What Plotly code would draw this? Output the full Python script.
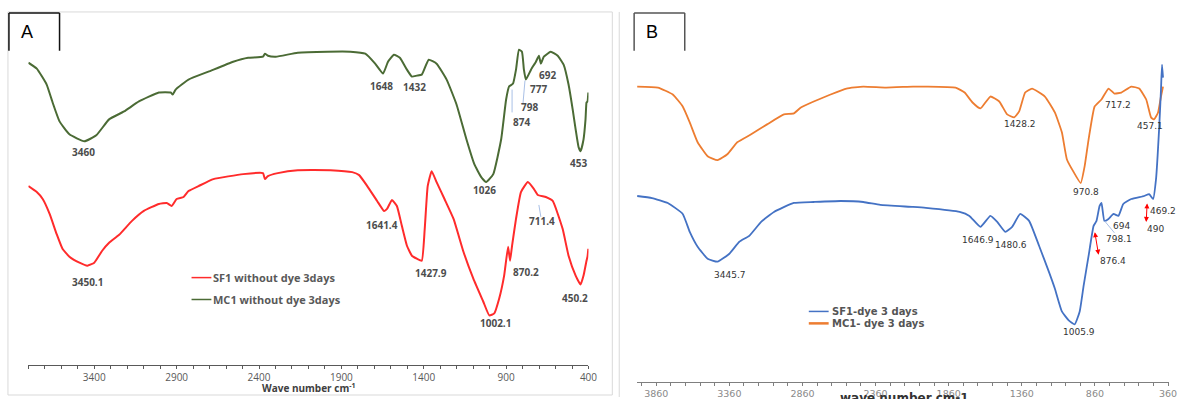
import plotly.graph_objects as go

W, H = 1182, 399

# ---------------- DATA ----------------
# Panel A (without dye)
wn_A_mc1 = [3800, 3749, 3689, 3653, 3611, 3551, 3460, 3388, 3310, 3219, 3129, 3008, 2936, 2924, 2906,
            2828, 2707, 2557, 2466, 2376, 2364, 2346, 2298, 2165, 1984, 1846, 1755, 1695, 1647, 1617,
            1581, 1545, 1502, 1472, 1442, 1412, 1370, 1322, 1261, 1201, 1141, 1093, 1051, 1021, 978,
            930, 900, 882, 858, 840, 822, 804, 792, 780, 749, 719, 701, 689, 671, 629, 587, 551, 521,
            496, 478, 460, 448, 430, 418, 412, 406, 401]
T_A_mc1 = [337, 331, 315, 297, 278, 265, 258, 264, 280, 288, 298, 307, 307, 305, 310,
           320, 328, 338, 342, 343, 346, 344, 343, 347, 348, 348, 346, 336, 326, 338,
           345, 342, 330, 323, 324, 325, 340, 336, 320, 295, 260, 235, 222, 217, 225,
           260, 300, 313, 316, 330, 350, 348, 330, 320, 330, 338, 344, 336, 343, 348, 344, 335, 315,
           290, 270, 252, 248, 260, 280, 297, 298, 307]

wn_A_sf1 = [3800, 3749, 3713, 3671, 3629, 3593, 3551, 3490, 3442, 3400, 3352, 3310, 3249, 3171, 3099,
            3008, 2960, 2930, 2900, 2858, 2828, 2767, 2677, 2496, 2376, 2364, 2346, 2286, 2165, 1966,
            1834, 1792, 1743, 1683, 1641, 1623, 1593, 1563, 1533, 1502, 1472, 1442, 1412, 1394, 1376,
            1352, 1322, 1274, 1219, 1159, 1099, 1039, 1002, 972, 942, 912, 888, 876, 864, 840, 810,
            768, 731, 707, 659, 617, 557, 521, 478, 448, 430, 412, 406, 401]
T_A_sf1 = [213, 207, 200, 185, 165, 150, 142, 136, 133, 136, 148, 156, 164, 178, 188,
           195, 196, 193, 200, 202, 208, 213, 220, 225, 226, 220, 223, 226, 229, 229,
           227, 224, 213, 198, 188, 190, 199, 193, 173, 153, 143, 140, 138, 170, 213,
           228, 217, 200, 180, 147, 120, 97, 83, 85, 100, 123, 152, 138, 153, 180, 207,
           217, 210, 204, 202, 198, 170, 143, 123, 114, 123, 138, 142, 150]

# Panel B (with dye)
wn_B_sf1 = [3991, 3889, 3781, 3679, 3631, 3577, 3509, 3441, 3360, 3292, 3224, 3143, 3055, 2919, 2783,
            2600, 2444, 2328, 2104, 2016, 1785, 1718, 1643, 1575, 1528, 1473, 1426, 1371, 1310, 1242,
            1175, 1134, 1086, 1039, 998, 964, 937, 903, 869, 849, 828, 815, 795, 767, 733, 699, 666,
            611, 523, 489, 462, 442, 421, 408, 401, 394]
T_B_sf1 = [203, 201, 196, 185, 167, 152, 140, 137, 145, 157, 163, 177, 187, 196, 197,
           198, 197, 194, 192, 191, 187, 183, 172, 183, 177, 167, 172, 185, 178, 153,
           127, 110, 87, 78, 74, 87, 113, 143, 173, 178, 193, 196, 178, 180, 185, 183, 195,
           200, 203, 205, 200, 220, 270, 310, 335, 322]

wn_B_mc1 = [3991, 3849, 3747, 3679, 3631, 3577, 3509, 3441, 3374, 3306, 3211, 3102, 2987, 2919, 2871,
            2783, 2668, 2559, 2444, 2288, 2104, 2016, 1813, 1751, 1697, 1643, 1575, 1514, 1460, 1412,
            1378, 1337, 1290, 1202, 1134, 1086, 1052, 1005, 957, 930, 903, 862, 815, 767, 727, 679,
            611, 557, 509, 476, 455, 428, 408, 394]
T_B_mc1 = [313, 312, 305, 293, 277, 257, 243, 239, 245, 257, 265, 275, 285, 286, 292,
           298, 305, 311, 313, 312, 313, 313, 312, 307, 297, 291, 303, 298, 285, 282,
           288, 307, 311, 303, 287, 267, 240, 227, 216, 233, 260, 293, 300, 311, 306, 307,
           313, 311, 300, 282, 280, 287, 303, 313]

names_A = ["SF1 without dye 3days", "MC1 without dye 3days"]
names_B = ["SF1-dye 3 days", "MC1- dye 3 days"]
ticks_A = [3400, 2900, 2400, 1900, 1400, 900, 400]
ticks_B = [3860, 3360, 2860, 2360, 1860, 1360, 860, 360]

peaks_A = ["3460", "1648", "1432", "874", "798", "777", "692", "453", "1026",
           "3450.1", "1641.4", "1427.9", "870.2", "711.4", "450.2", "1002.1"]
peaks_B = ["3445.7", "1428.2", "717.2", "457.1", "970.8", "1646.9", "1480.6", "1005.9",
           "876.4", "694", "798.1", "469.2", "490"]

# ---------------- STYLE / LAYOUT ----------------
C_RED, C_GREEN, C_BLUE, C_ORANGE = "#ff2b2b", "#4b6b35", "#4472c4", "#ed7d31"

def px(x):
    return x / W

def py(y):
    return 1 - y / H

fig = go.Figure()
fig.add_trace(go.Scatter(x=wn_A_mc1, y=T_A_mc1, mode="lines", name=names_A[1],
                         line=dict(color=C_GREEN, width=2, shape="spline", smoothing=0.4),
                         xaxis="x", yaxis="y", showlegend=False))
fig.add_trace(go.Scatter(x=wn_A_sf1, y=T_A_sf1, mode="lines", name=names_A[0],
                         line=dict(color=C_RED, width=2, shape="spline", smoothing=0.4),
                         xaxis="x", yaxis="y", showlegend=False))
fig.add_trace(go.Scatter(x=wn_B_mc1, y=T_B_mc1, mode="lines", name=names_B[1],
                         line=dict(color=C_ORANGE, width=1.8, shape="spline", smoothing=0.4),
                         xaxis="x2", yaxis="y2", showlegend=False))
fig.add_trace(go.Scatter(x=wn_B_sf1, y=T_B_sf1, mode="lines", name=names_B[0],
                         line=dict(color=C_BLUE, width=1.8, shape="spline", smoothing=0.4),
                         xaxis="x2", yaxis="y2", showlegend=False))

FA = "Open Sans"
FB = "DejaVu Sans"

annotations = []
shapes = []

def label(text, x, y, font, size, color, bold=False, anchor="left"):
    t = f"<b>{text}</b>" if bold else text
    annotations.append(dict(text=t, x=px(x), y=py(y), xref="paper", yref="paper",
                            xanchor=anchor, yanchor="middle", showarrow=False,
                            font=dict(family=font, size=size, color=color), borderpad=0))

def line(x0, y0, x1, y1, color, width=1):
    shapes.append(dict(type="line", xref="paper", yref="paper", x0=px(x0), y0=py(y0),
                       x1=px(x1), y1=py(y1), line=dict(color=color, width=width)))

# Panel A peak labels (left edge, vertical centre in pixels)
pos_A = [(72, 153), (372, 86), (405, 87), (516, 123), (524, 108), (533, 89), (542, 75), (573, 164),
         (476, 191), (72, 283), (368, 226), (417, 274), (516, 273), (532, 222), (565, 300), (483, 325)]
for t, (x, y) in zip(peaks_A, pos_A):
    label(t, x, y, FA, 10, "#4d4d4d", bold=True)

# Panel B peak labels
pos_B = [(718, 276), (1011, 125), (1112, 106), (1145, 127), (1080, 193), (968, 241), (1002, 246),
         (1070, 334), (1107, 262), (1121, 227), (1113, 240), (1158, 212), (1155, 230)]
for t, (x, y) in zip(peaks_B, pos_B):
    label(t, x, y, FB, 9, "#333333")

# leader lines
LB = "#a9c0e6"
line(516, 90, 516, 113, LB)
line(529, 81, 527, 104, LB)
line(543, 206, 545, 218, LB)
line(1113, 222, 1123, 234, LB)

# red double arrows in panel B
for (x0, y0, x1, y1) in [(1103, 232, 1107, 256), (1156, 203, 1155, 223)]:
    annotations.append(dict(x=px(x1), y=py(y1), xref="paper", yref="paper",
                            ax=x0 - x1, ay=y0 - y1, axref="pixel", ayref="pixel",
                            text="", showarrow=True, arrowhead=2, startarrowhead=2,
                            arrowside="end+start", arrowsize=1, startarrowsize=1,
                            arrowwidth=1, arrowcolor="#ff0000", standoff=0, startstandoff=0))

# legends (manual)
line(193, 279, 213, 279, C_RED, 1.5)
label(names_A[0], 214, 279, FA, 11, "#595959", bold=True)
line(193, 301, 213, 301, C_GREEN, 1.5)
label(names_A[1], 214, 301, FA, 11, "#595959", bold=True)

line(815, 313, 835, 313, C_BLUE, 1.5)
label(names_B[0], 837, 313, FB, 10, "#555555", bold=True)
line(815, 325, 835, 325, C_ORANGE, 2.5)
label(names_B[1], 837, 325, FB, 10, "#555555", bold=True)

# axis titles
annotations.append(dict(text="<b>Wave number cm<sup>-1</sup></b>", x=px(311), y=py(390),
                        xref="paper", yref="paper", xanchor="center", yanchor="middle",
                        showarrow=False, font=dict(family=FA, size=10, color="#404040")))
annotations.append(dict(text="<b>wave number cm-1</b>", x=px(911), y=py(391),
                        xref="paper", yref="paper", xanchor="center", yanchor="top",
                        showarrow=False, font=dict(family=FB, size=12, color="#333333")))

# panel letters
label("A", 20, 32, "Liberation Sans", 18, "#000000")
label("B", 650, 32, "Liberation Sans", 18, "#000000")

# frames
shapes.append(dict(type="rect", xref="paper", yref="paper", x0=px(8), y0=py(397), x1=px(617), y1=py(12),
                   line=dict(color="#d9d9d9", width=1)))
line(624, 12, 624, 399, "#d9d9d9", 1)
for (x0, x1, col) in [(9, 60, "#111111"), (639, 690, "#555555")]:
    line(x0, 13, x0, 51, col, 1.5)
    line(x0, 13, x1, 13, col, 1.5)
    line(x1, 13, x1, 51, col, 1.5)

fig.update_layout(
    width=W, height=H, margin=dict(l=0, r=0, t=0, b=0),
    paper_bgcolor="white", plot_bgcolor="rgba(0,0,0,0)",
    xaxis=dict(domain=[px(28.6), px(593)], range=[3800, 400], anchor="y",
               tickmode="array", tickvals=ticks_A, ticks="outside", ticklen=3, tickcolor="#595959",
               minor=dict(dtick=100, tick0=400, ticks="outside", ticklen=3, tickcolor="#595959"),
               showline=True, linecolor="#595959", linewidth=1, showgrid=False, zeroline=False,
               tickfont=dict(family=FA, size=10, color="#595959")),
    yaxis=dict(domain=[py(367), py(27)], range=[33, 373], visible=False, anchor="x"),
    xaxis2=dict(domain=[px(642), px(1178)], range=[3991, 353], anchor="y2",
                tickmode="array", tickvals=ticks_B, ticks="outside", ticklen=3, tickcolor="#7f7f7f",
                minor=dict(dtick=100, tick0=360, ticks="outside", ticklen=3, tickcolor="#7f7f7f"),
                showline=True, linecolor="#7f7f7f", linewidth=1, showgrid=False, zeroline=False,
                tickfont=dict(family=FB, size=9.5, color="#8a8a8a")),
    yaxis2=dict(domain=[py(384), py(27)], range=[16, 373], visible=False, anchor="x2"),
    annotations=annotations, shapes=shapes, showlegend=False,
)

fig.write_html("out.html")
